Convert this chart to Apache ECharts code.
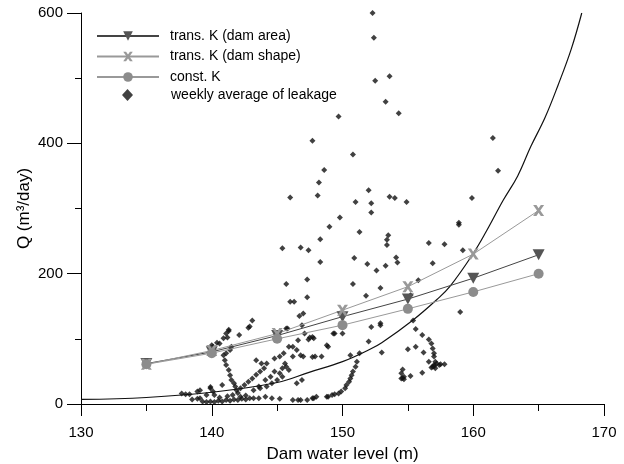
<!DOCTYPE html>
<html><head><meta charset="utf-8">
<script src="https://cdn.jsdelivr.net/npm/echarts@6/dist/echarts.min.js"></script>
<style>html,body{margin:0;padding:0;background:#fff}#c{width:624px;height:464px}</style>
</head><body><div id="c"></div>
<script>
// ---- data ----
const modelLevels = [135, 140, 145, 150, 155, 160, 165];
const transKArea  = [62, 80, 105, 134, 161, 193, 229];
const transKShape = [61, 82, 108, 144, 180, 230, 297];
const constK      = [61, 78, 100, 121, 146, 172, 200];

// fitted curve
const curveX = [130, 135, 140, 145, 147.5, 150, 152.1, 153, 155.4, 157.2, 158.2, 160, 161, 162.3, 163.4, 164.4, 165.5, 166.5, 167.5, 168.3];
const curveQ = [7, 10, 18, 33, 49, 65, 84, 94, 129, 160, 180, 231, 265, 313, 350, 395, 440, 490, 545, 600];

// weekly average of leakage: [level, Q]
const leakage = [
[152.3,600],[152.7,601],[152.4,562],[152.5,496],[153.6,503],[153.3,464],[154.3,446],[149.7,441],[147.7,404],[150.8,383],
[148.6,359],[148.2,340],[148.1,320],[146.0,317],[152.0,328],[153.6,318],[154.0,316],[154.9,310],[159.9,316],[161.5,408],[161.9,358],
[151.0,310],[152.2,308],[152.2,294],[149.8,286],[149.0,272],[151.3,264],[148.3,253],[153.5,259],[153.4,252],[153.4,244],
[154.1,225],[154.2,217],[153.3,212],[152.6,205],[151.9,215],[150.9,224],[148.3,218],[147.4,236],[146.8,240],[145.4,239],
[147.3,191],[145.7,184],[150.8,184],[151.8,166],[152.9,178],[147.3,164],[146.0,157],[146.3,157],[147.0,139],[146.7,135],
[146.9,121],[147.1,108],[147.7,103],[147.8,101],[145.8,116],[158.9,278],[158.9,275],[156.6,247],[157.8,245],[159.2,236],
[156.9,216],[155.8,190],[155.2,167],[159.0,141],[152.9,124],[152.2,118],[149.4,108],[150.0,108],[152.9,121],[152.0,96],
[151.3,78],[150.6,75],
[143.1,128],[142.9,119],[142.8,117],[141.3,112],[141.2,102],[142.1,106],[140.0,90],[140.4,94],[140.6,93],[140.9,101],
[141.1,108],[141.3,114],[140.1,88],
[140.9,75],[141.0,67],[141.1,60],[141.3,52],[141.4,44],[141.5,37],[141.7,32],[141.8,27],[141.9,21],[142.0,17],
[141.1,78],[141.4,83],[141.5,88],
[137.7,16],[138.0,15],[138.3,15],[138.9,19],[139.1,21],[139.9,26],[140.2,14],[140.8,29],[139.9,24],[140.1,19],
[139.6,14],[139.1,9],[138.5,7],[138.9,8],
[139.3,4],[139.6,3],[139.9,4],[140.2,3],[140.5,5],[140.8,4],[141.1,6],[141.4,5],[141.7,7],[142.0,6],[142.3,8],[142.6,7],
[142.9,9],[140.6,10],[141.2,12],[141.6,14],[142.2,11],[142.6,13],[143.2,9],[143.6,9],[144.1,11],[144.6,9],[145.2,8],
[146.2,6],[146.6,6],[146.8,6],[147.3,6],[147.7,9],[147.8,9],[148.0,11],[148.8,11],[148.9,11],
[142.2,24],[142.5,29],[142.8,34],[143.1,39],[143.4,45],[143.7,50],[144.0,55],[143.4,67],[143.8,62],[144.2,62],
[144.8,70],[145.2,73],[145.6,62],[145.7,57],[145.2,47],[143.2,21],[143.7,24],[144.2,27],[144.6,32],[145.0,37],
[145.4,42],[145.9,52],[144.1,37],[144.5,42],[144.8,50],[145.4,55],[143.6,27],
[145.9,88],[146.2,73],[146.8,75],[146.6,98],[147.4,99],[147.9,73],[148.4,73],[148.8,90],[149.3,108],[146.5,32],
[146.9,37],[147.0,73],[147.7,72],[148.9,88],[146.2,88],[146.5,83],[145.5,78],[145.7,116],[147.5,102],
[149.2,14],[149.4,15],[149.7,16],[149.9,19],[150.2,24],[150.3,29],[150.5,34],[150.6,39],[150.7,44],[150.8,50],
[151.0,57],[151.1,65],
[155.4,128],[155.6,115],[156.1,106],[156.6,99],[156.8,93],[156.9,85],[157.0,78],[157.0,73],[157.1,65],[157.0,58],
[156.8,56],[157.1,55],[156.9,57],[157.0,60],[157.2,62],[157.5,61],[157.8,61],[157.4,60],[156.2,79],[155.6,88],
[155.0,84],[156.6,65],[153.0,79],[156.1,48],[155.2,43],[154.6,53],[154.5,47],[154.7,42],[154.5,39],[154.7,38],[154.6,40]
];

const xTicks = [130, 140, 150, 160, 170];
const yTicks = [0, 200, 400, 600];

// ---- chart ----
const pair = (xs, ys) => xs.map((x, i) => [x, ys[i]]);
const X_PATH = 'path://M0,0 L3,0 L5,3 L7,0 L10,0 L6.5,5 L10,10 L7,10 L5,7 L3,10 L0,10 L3.5,5 Z';
const font = 'Liberation Sans, Arial, sans-serif';
const legendText = {fontFamily: font, fontSize: 14, color: '#000', lineHeight: 12};

const chart = echarts.init(document.getElementById('c'), null, {renderer: 'canvas'});
chart.setOption({
  animation: false,
  backgroundColor: '#fff',
  grid: {left: 81, right: 20, top: 13, bottom: 60, containLabel: false, outerBoundsMode: 'none'},
  legend: [{
    orient: 'vertical', left: 96, top: 29, padding: 0, itemWidth: 62, itemHeight: 12, itemGap: 6.5,
    textStyle: Object.assign({padding: [0, 0, 0, 6]}, legendText),
    data: ['trans. K (dam area)', 'trans. K (dam shape)', 'const. K']
  }, {
    orient: 'vertical', left: 122, top: 88, padding: 0, itemWidth: 11, itemHeight: 12,
    textStyle: Object.assign({padding: [0, 0, 0, 33]}, legendText),
    data: [{name: 'weekly average of leakage', icon: 'diamond'}]
  }],
  xAxis: [{
    type: 'value', min: xTicks[0], max: xTicks[xTicks.length - 1], interval: 10,
    name: 'Dam water level (m)', nameLocation: 'middle', nameGap: 42, nameMoveOverlap: false,
    nameTextStyle: {fontFamily: font, fontSize: 17, color: '#000'},
    axisLine: {show: true, onZero: false, lineStyle: {color: '#000', width: 1}},
    axisTick: {show: true, inside: false, length: 12, lineStyle: {color: '#000'}},
    minorTick: {show: true, splitNumber: 2, length: 7, lineStyle: {color: '#000'}},
    axisLabel: {fontFamily: font, fontSize: 15, color: '#000', margin: 21},
    splitLine: {show: false}
  }, {
    type: 'value', position: 'top', min: xTicks[0], max: xTicks[xTicks.length - 1],
    axisLine: {show: true, lineStyle: {color: '#000', width: 1}},
    axisTick: {show: false}, axisLabel: {show: false}, splitLine: {show: false}
  }],
  yAxis: {
    type: 'value', min: yTicks[0], max: yTicks[yTicks.length - 1], interval: 200,
    name: 'Q (m³/day)', nameLocation: 'middle', nameGap: 48, nameRotate: 90, nameMoveOverlap: false,
    nameTextStyle: {fontFamily: font, fontSize: 17, color: '#000'},
    axisLine: {show: true, onZero: false, lineStyle: {color: '#000', width: 1}},
    axisTick: {show: true, length: 14, lineStyle: {color: '#000'}},
    minorTick: {show: true, splitNumber: 2, length: 6, lineStyle: {color: '#000'}},
    axisLabel: {fontFamily: font, fontSize: 15, color: '#000', margin: 18},
    splitLine: {show: false}
  },
  series: [
    {
      name: 'fit', type: 'line', data: pair(curveX, curveQ), smooth: 0.4, showSymbol: false,
      symbol: 'none', lineStyle: {color: '#111', width: 1.2}, z: 3, silent: true, clip: true
    },
    {
      name: 'weekly average of leakage', type: 'scatter', data: leakage,
      symbol: 'diamond', symbolSize: 6, itemStyle: {color: '#111'}, z: 4
    },
    {
      name: 'trans. K (dam area)', type: 'line', data: pair(modelLevels, transKArea),
      symbol: 'triangle', symbolRotate: 180, symbolSize: [12, 11],
      lineStyle: {color: '#444', width: 1}, itemStyle: {color: '#555'}, z: 5
    },
    {
      name: 'trans. K (dam shape)', type: 'line', data: pair(modelLevels, transKShape),
      symbol: X_PATH, symbolSize: 11,
      lineStyle: {color: '#999', width: 1}, itemStyle: {color: '#999'}, z: 5
    },
    {
      name: 'const. K', type: 'line', data: pair(modelLevels, constK),
      symbol: 'circle', symbolSize: 10,
      lineStyle: {color: '#999', width: 1}, itemStyle: {color: '#8c8c8c'}, z: 5
    }
  ]
});
</script></body></html>
